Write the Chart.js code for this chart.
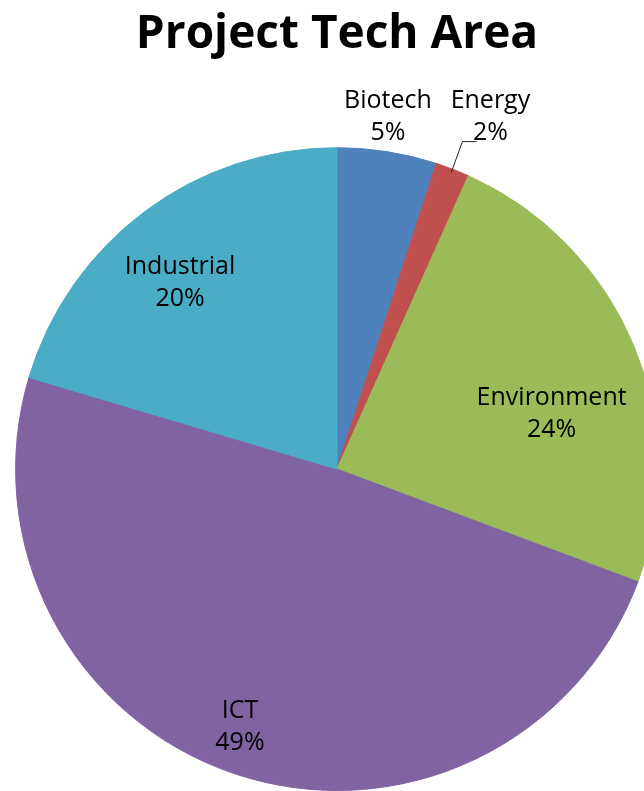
<!DOCTYPE html>
<html>
<head>
<meta charset="utf-8">
<script src="https://cdn.jsdelivr.net/npm/chart.js@4"></script>
<style>
  html, body { margin: 0; padding: 0; background: #fff; overflow: hidden; }
  #wrap { width: 644px; height: 791px; overflow: hidden; }
</style>
</head>
<body>
<div id="wrap"><canvas id="pieChart" width="674" height="791"></canvas></div>
<script>
// data (percent of projects)
const categories = ["Biotech", "Energy", "Environment", "ICT", "Industrial"];
const shares = [5.0, 1.7, 24.0, 48.9, 20.4];
const shownPct = ["5%", "2%", "24%", "49%", "20%"];
const sliceColors = ["#4F81BD", "#C0504D", "#9BBB59", "#8064A2", "#4BACC6"];

// label placement: radius factor and angle tweak (deg) from slice middle
const labelRadius = [1.111, 1.199, 0.69, 0.853, 0.761];
const labelTurn = [-0.8, 2.4, 8.1, 2.2, -3.2];

const labelFont = "25px 'Open Sans'";

// draws the two-line data labels (+ leader line for the small slice)
const sliceLabels = {
    id: "sliceLabels",
    afterDatasetsDraw(chart) {
        const ctx = chart.ctx;
        const arcs = chart.getDatasetMeta(0).data;
        ctx.save();
        ctx.font = labelFont;
        ctx.fillStyle = "#000";
        ctx.textAlign = "center";
        ctx.textBaseline = "middle";
        arcs.forEach((arc, i) => {
            const p = arc.getProps(["x", "y", "startAngle", "endAngle", "outerRadius"], true);
            const mid = (p.startAngle + p.endAngle) / 2;
            const a = mid + labelTurn[i] * Math.PI / 180;
            const r = p.outerRadius * labelRadius[i];
            const lx = p.x + Math.cos(a) * r;
            const ly = p.y + Math.sin(a) * r;
            ctx.fillText(categories[i], lx, ly - 15);
            ctx.fillText(shownPct[i], lx, ly + 17);

            if (categories[i] === "Energy") {
                ctx.strokeStyle = "#222";
                ctx.lineWidth = 1;
                ctx.beginPath();
                ctx.moveTo(p.x + Math.cos(mid) * p.outerRadius * 0.99, p.y + Math.sin(mid) * p.outerRadius * 0.99);
                ctx.lineTo(lx - 28, ly + 26);
                ctx.lineTo(lx - 14, ly + 26);
                ctx.stroke();
            }
        });
        ctx.restore();
    }
};

const ctx = document.getElementById("pieChart").getContext("2d");
new Chart(ctx, {
    type: "pie",
    data: {
        labels: categories,
        datasets: [{
            data: shares,
            backgroundColor: sliceColors,
            borderColor: sliceColors,
            borderWidth: 1
        }]
    },
    options: {
        responsive: false,
        animation: false,
        layout: { padding: { left: 15, right: 15, top: 0, bottom: 0 } },
        plugins: {
            legend: { display: false },
            tooltip: { enabled: false },
            title: {
                display: true,
                text: "Project Tech Area",
                color: "#000",
                font: { family: "'Open Sans'", size: 46, weight: "bold", lineHeight: 1.2 },
                padding: { top: 7, bottom: 85 }
            }
        }
    },
    plugins: [sliceLabels]
});
</script>
</body>
</html>
